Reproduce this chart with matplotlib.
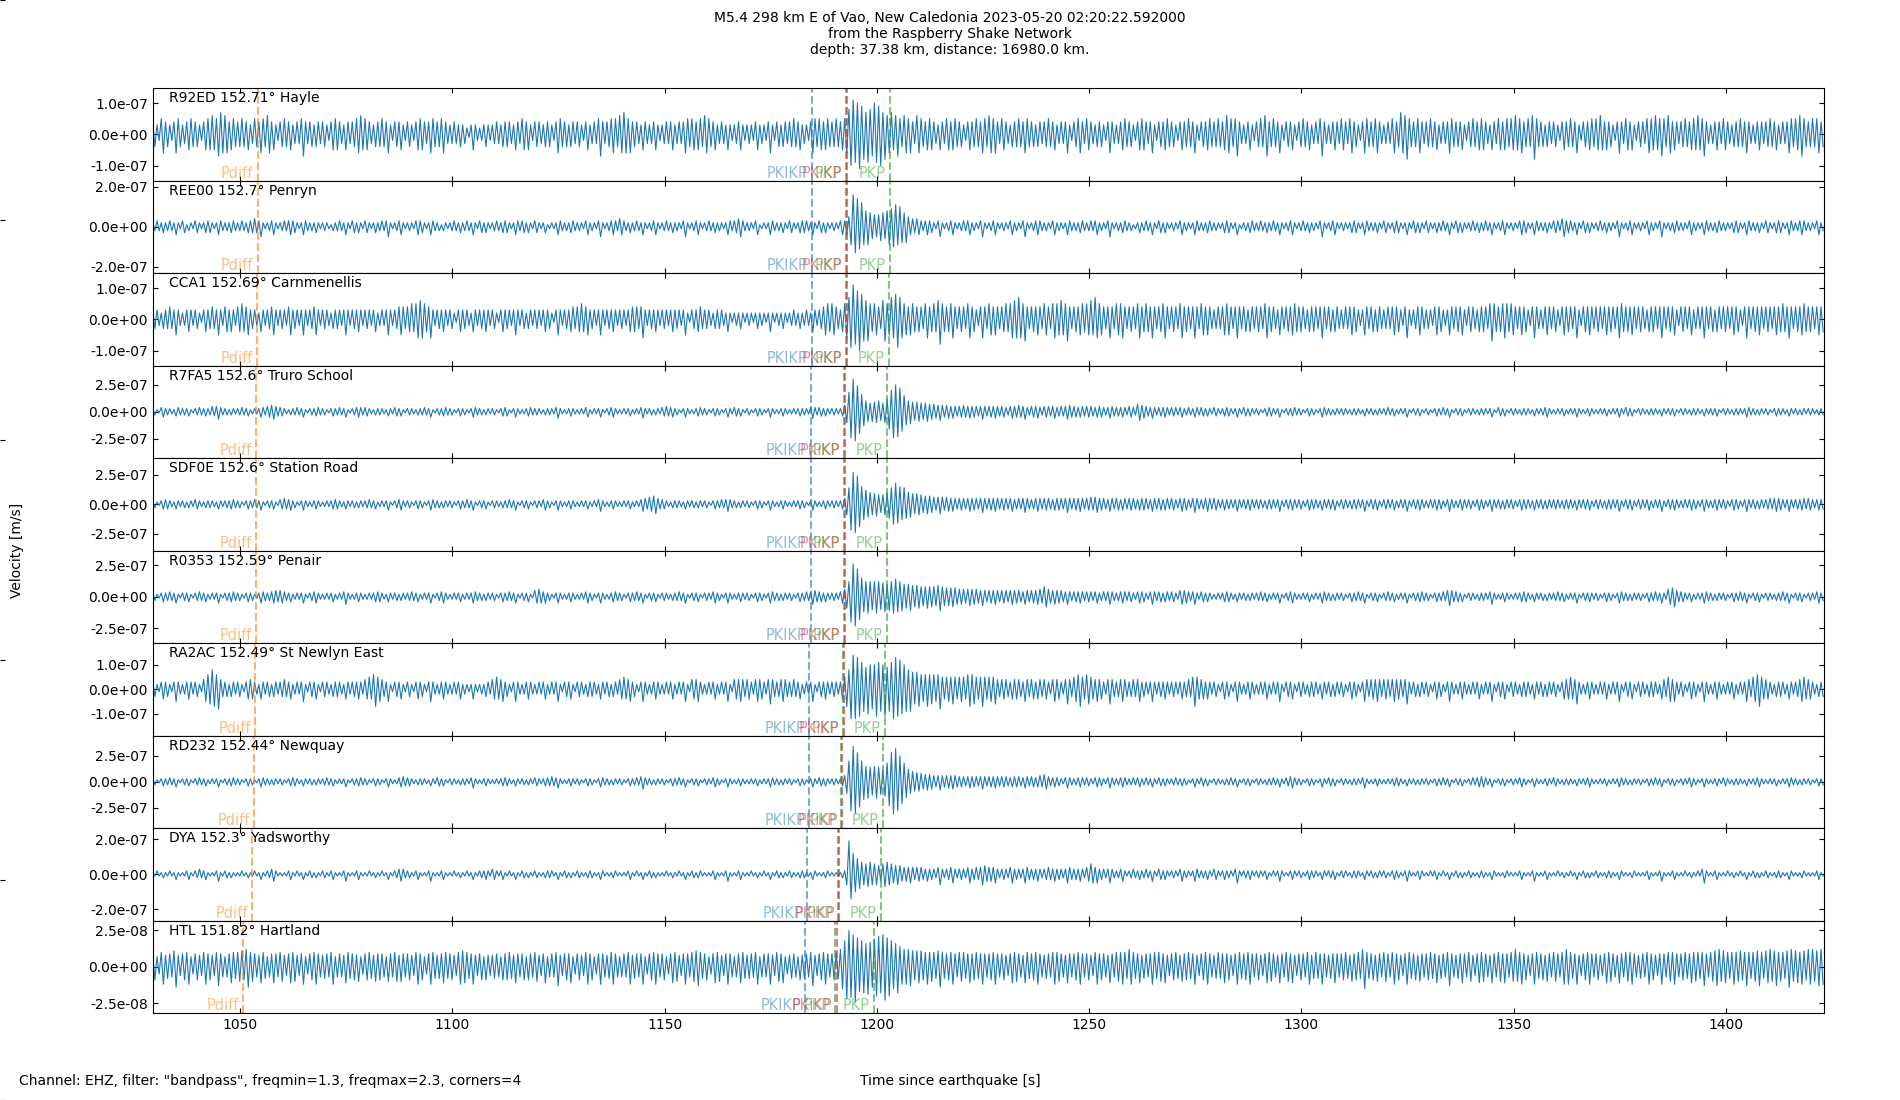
import numpy as np
import matplotlib
matplotlib.use("Agg")
import matplotlib.pyplot as plt
from matplotlib.ticker import FormatStrFormatter

# ------------------------------------------------------------------
# stations (top to bottom)
# ------------------------------------------------------------------
stations = ["R92ED", "REE00", "CCA1", "R7FA5", "SDF0E",
            "R0353", "RA2AC", "RD232", "DYA", "HTL"]
dists = ["152.71", "152.7", "152.69", "152.6", "152.6",
         "152.59", "152.49", "152.44", "152.3", "151.82"]
places = ["Hayle", "Penryn", "Carnmenellis", "Truro School", "Station Road",
          "Penair", "St Newlyn East", "Newquay", "Yadsworthy", "Hartland"]

ylims = [1.48e-7, 2.31e-7, 1.48e-7, 4.28e-7, 3.92e-7,
         3.65e-7, 1.89e-7, 4.45e-7, 2.64e-7, 3.18e-8]
ytick_step = [1e-7, 2e-7, 1e-7, 2.5e-7, 2.5e-7,
              2.5e-7, 1e-7, 2.5e-7, 2e-7, 2.5e-8]
units = [1e-8, 1e-8, 1e-8, 1e-8, 1e-8, 1e-8, 1e-8, 1e-8, 1e-8, 1e-9]

# phase arrival times [s]
pdiff_t = [1054.1, 1054.1, 1054.0, 1053.8, 1053.8, 1053.7, 1053.5, 1053.3, 1052.8, 1050.6]
pkikp_t = [1184.6, 1184.6, 1184.6, 1184.4, 1184.4, 1184.4, 1184.1, 1184.1, 1183.6, 1183.1]
pkikp2_t = [1192.9, 1192.9, 1192.9, 1192.4, 1192.4, 1192.4, 1192.2, 1191.8, 1191.1, 1190.5]
pkp1_t = [1192.7, 1192.7, 1192.7, 1192.2, 1192.2, 1192.2, 1191.9, 1191.5, 1190.8, 1190.1]
pkp2_t = [1203.0, 1203.0, 1202.9, 1202.3, 1202.3, 1202.3, 1201.8, 1201.5, 1201.0, 1199.3]

# trace peak amplitudes, two peaks per second (in "units" of each trace),
# peaks alternate up / down; one line = 20 s
t_start = 1029.4
dt = 0.5

amp_R92ED = [
    4,4,3,2,5,6,4,4,3,2,4,6,5,4,3,3,4,5,5,4,4,4,3,2,4,5,5,5,6,5,5,7,7,6,6,6,4,5,5,4,
    4,4,5,4,4,5,3,3,5,4,4,6,5,4,6,6,4,5,3,2,4,4,5,4,4,5,3,3,4,3,5,7,4,3,4,4,3,4,4,3,
    4,4,3,2,4,5,5,5,4,3,3,5,4,3,4,4,5,6,6,5,5,5,4,3,3,4,4,4,5,4,4,6,3,2,4,4,4,5,3,2,
    4,4,3,2,4,5,5,5,4,3,4,6,5,4,4,4,5,6,4,3,3,3,4,3,3,4,3,3,2,1,3,5,3,2,2,2,3,4,3,2,
    3,3,4,3,3,4,4,4,4,3,3,5,4,3,5,5,4,5,3,2,4,4,4,3,3,4,4,4,3,2,4,6,5,4,4,4,3,4,4,3,
    4,4,3,2,4,5,3,3,4,3,5,7,4,3,4,4,5,6,5,4,6,6,7,6,5,6,4,4,4,3,3,5,4,3,3,3,4,5,3,2,
    3,3,4,3,4,5,3,3,4,3,4,6,5,4,5,5,4,5,5,4,6,6,5,4,4,5,3,3,4,3,3,5,3,2,3,3,4,5,3,2,
    3,3,3,2,4,5,3,3,3,2,4,6,3,2,4,4,3,4,4,3,4,4,5,4,4,5,3,3,3,2,4,6,5,4,5,5,4,5,5,4,
    4,4,5,4,4,5,5,6,8,10,11,9,10,11,9,8,7,9,8,7,10,9,9,10,7,8,6,6,7,5,6,7,5,4,6,6,5,6,4,3,
    6,6,5,4,4,5,5,5,4,3,3,5,4,3,5,5,4,5,5,4,4,4,3,2,4,5,4,4,5,4,4,6,5,4,6,6,5,6,4,3,
    5,5,4,3,3,4,4,4,5,4,4,6,5,4,4,4,3,4,4,3,4,4,5,4,4,5,3,3,4,3,4,6,3,2,4,4,5,6,4,3,
    5,5,4,3,3,4,4,4,3,2,4,6,4,3,3,3,4,5,5,4,4,4,3,2,4,5,5,5,4,3,4,6,3,2,4,4,4,5,5,4,
    4,4,3,2,4,5,4,4,5,4,4,6,3,2,4,4,4,5,5,4,4,4,5,4,4,5,6,6,5,4,5,7,4,3,3,3,4,5,3,2,
    4,4,5,4,6,7,4,4,5,4,4,6,3,2,4,4,4,5,3,2,4,4,5,4,4,5,3,3,4,3,5,7,4,3,3,3,4,5,4,3,
    5,5,4,3,5,6,4,4,3,2,4,6,5,4,4,4,5,6,4,3,3,3,4,3,5,6,4,4,7,6,6,8,5,4,4,4,5,6,4,3,
    4,4,5,4,4,5,3,3,4,3,4,6,5,4,4,4,4,5,3,2,4,4,5,4,4,5,5,5,4,3,3,5,4,3,5,5,4,5,5,4,
    5,5,6,5,5,6,4,4,5,4,6,8,5,4,4,4,3,4,4,3,4,4,3,2,4,5,4,4,5,4,4,6,3,2,4,4,4,5,5,4,
    5,5,6,5,4,5,4,4,3,2,4,6,4,3,5,5,4,5,3,2,4,4,4,3,5,6,5,5,6,5,5,7,5,4,6,6,4,5,4,3,
    4,4,5,4,4,5,5,5,6,5,5,7,4,3,3,3,4,5,4,3,5,5,4,3,3,4,4,4,5,4,4,6,4,3,3,3,4,5,4,3,
    4,4,5,4,4,5,3,3,4,3,4,6,5,4,5,5,6,7,5,4,4,4,5,4,5,6,4,4,
]

amp_REE00 = [
    2,2,3,2,2,3,2,2,3,2,2,4,2,1,3,3,1,2,2,1,3,3,2,1,2,3,3,3,2,1,2,4,3,2,2,2,2,3,3,2,
    2,2,3,2,2,3,3,3,4,3,3,5,2,1,2,2,3,4,2,1,2,2,3,2,3,4,3,3,2,1,2,4,3,2,2,2,2,3,2,1,
    2,2,2,1,1,2,2,2,3,2,2,4,2,1,3,3,2,3,2,1,3,3,2,1,2,3,2,2,3,2,3,5,2,1,2,2,3,4,2,1,
    2,2,2,1,3,4,3,3,2,1,2,4,3,2,2,2,1,2,2,1,2,2,3,2,2,3,2,2,3,2,2,4,2,1,3,3,2,3,2,1,
    2,2,3,2,2,3,3,3,2,1,2,4,3,2,3,3,2,3,2,1,3,3,2,1,2,3,1,1,2,1,2,4,3,2,2,2,2,3,3,2,
    2,2,2,1,3,4,2,2,2,1,3,5,2,1,2,2,3,4,3,2,4,4,3,2,2,3,2,2,3,2,2,4,2,1,2,2,3,4,2,1,
    2,2,3,2,2,3,2,2,2,1,3,5,2,1,2,2,3,4,2,1,2,2,3,2,2,3,2,2,2,1,2,4,3,2,3,3,4,5,3,2,
    2,2,2,1,3,4,1,1,2,1,2,4,3,2,2,2,2,3,2,1,3,3,2,1,2,3,3,3,3,2,2,4,2,1,3,3,2,3,2,1,
    2,2,2,1,3,4,3,4,5,9,16,13,14,11,12,9,8,9,7,6,6,5,6,7,7,6,8,9,9,10,11,9,10,8,7,8,5,4,4,3,
    4,4,3,2,3,4,3,3,2,1,3,5,2,1,2,2,3,4,2,1,2,2,3,2,3,4,2,2,2,1,3,5,2,1,2,2,3,4,2,1,
    2,2,2,1,3,4,2,2,2,1,3,5,2,1,2,2,3,4,3,2,2,2,2,1,3,4,2,2,2,1,2,4,3,2,2,2,2,3,3,2,
    2,2,3,2,3,4,2,2,2,1,3,5,2,1,2,2,2,3,3,2,2,2,1,1,2,3,2,2,3,2,2,4,2,1,3,3,2,3,2,1,
    2,2,2,1,3,4,2,2,2,1,2,4,3,2,2,2,2,3,3,2,2,2,2,1,2,3,3,3,2,1,2,4,1,1,2,2,2,3,3,2,
    2,2,3,2,2,3,2,2,3,2,2,4,2,1,2,2,3,4,2,1,2,2,3,2,2,3,2,2,2,1,3,5,2,1,2,2,3,4,2,1,
    2,2,2,1,2,3,3,3,2,1,2,4,3,2,2,2,2,3,2,1,3,3,2,1,2,3,3,3,2,1,2,4,2,1,3,3,2,3,2,1,
    3,3,2,1,2,3,2,2,3,2,2,4,2,1,3,3,2,3,2,1,2,2,3,2,2,3,2,2,3,2,2,4,2,1,2,2,3,4,2,1,
    2,2,2,1,3,4,3,3,2,1,2,4,3,2,2,2,2,3,2,1,3,3,3,2,4,5,3,3,3,2,2,4,2,1,3,3,2,3,2,1,
    2,2,3,2,2,3,2,2,2,1,3,5,2,1,2,2,3,4,2,1,2,2,2,1,3,4,2,2,2,1,3,5,2,1,2,2,2,3,3,2,
    2,2,2,1,3,4,2,2,2,1,2,4,3,2,2,2,2,3,3,2,2,2,2,1,2,3,3,3,2,1,2,4,3,2,2,2,2,3,2,1,
    3,3,2,1,2,3,3,3,2,1,2,4,3,2,2,2,3,4,3,2,2,2,2,1,3,4,2,2,
]

amp_CCA1 = [
    3,3,3,2,2,3,3,3,4,3,3,5,3,2,2,2,3,4,3,2,3,3,2,1,3,4,3,3,4,3,3,5,3,2,4,4,3,4,3,2,
    4,4,5,4,4,5,3,3,3,2,2,4,3,2,3,3,4,5,3,2,3,3,3,2,4,5,3,3,3,2,3,5,3,2,3,3,4,5,3,2,
    3,3,3,2,2,3,3,3,3,2,3,5,3,2,3,3,3,4,3,2,3,3,3,2,3,4,2,2,3,2,3,5,3,2,3,3,4,5,4,3,
    4,4,5,4,5,6,6,6,5,4,4,6,3,2,3,3,3,4,3,2,3,3,2,1,3,4,3,3,3,2,2,4,3,2,3,3,3,4,3,2,
    3,3,2,1,3,4,3,3,3,2,3,5,3,2,3,3,2,3,3,2,3,3,3,2,3,4,3,3,2,1,3,5,3,2,3,3,3,4,4,3,
    4,4,5,4,4,5,3,3,3,2,3,5,3,2,3,3,3,4,3,2,3,3,3,2,3,4,4,4,4,3,4,6,3,2,3,3,3,4,3,2,
    3,3,3,2,3,4,3,3,3,2,3,5,2,1,3,3,3,4,4,3,3,3,3,2,2,3,3,3,3,2,2,4,2,1,2,2,2,3,2,1,
    2,2,2,1,2,3,2,2,2,1,2,4,2,1,2,2,2,3,2,1,2,2,3,2,2,3,2,2,3,2,2,4,3,2,3,3,4,5,5,4,
    5,5,4,3,3,4,5,6,7,9,11,8,9,10,8,7,6,7,5,4,5,5,4,3,6,7,5,5,7,6,8,9,7,6,5,5,4,5,5,4,
    4,4,4,3,5,6,4,4,5,4,6,8,5,4,4,4,5,6,4,3,4,4,4,3,5,6,4,4,3,2,4,6,4,3,5,5,4,5,4,3,
    4,4,5,4,5,6,6,6,7,6,5,7,4,3,4,4,4,5,4,3,5,5,4,3,5,6,5,5,6,5,5,7,4,3,4,4,4,5,5,4,
    5,5,6,5,7,6,5,5,4,3,4,6,4,3,5,5,5,6,4,3,4,4,4,3,5,6,4,4,5,4,4,6,4,3,4,4,5,6,4,3,
    4,4,4,3,5,6,4,4,4,3,4,6,4,3,5,5,4,5,4,3,3,3,4,3,4,5,5,5,4,3,4,6,4,3,4,4,3,4,4,3,
    4,4,4,3,5,6,4,4,4,3,3,5,4,3,4,4,4,5,5,4,4,4,4,3,3,4,4,4,4,3,4,6,4,3,4,4,3,4,4,3,
    3,3,4,3,4,5,4,4,3,2,3,5,4,3,4,4,3,4,4,3,3,3,4,3,4,5,4,4,3,2,4,6,3,2,3,3,4,5,4,3,
    3,3,3,2,4,5,4,4,3,2,3,5,4,3,4,4,4,5,3,2,4,4,4,3,3,4,4,4,4,3,5,7,5,4,4,4,5,6,5,4,
    5,5,4,3,4,5,4,4,3,2,4,6,4,3,3,3,4,5,4,3,4,4,3,2,4,5,4,4,4,3,4,6,3,2,4,4,4,5,4,3,
    4,4,4,3,4,5,4,4,4,3,4,6,5,4,4,4,4,5,4,3,4,4,4,3,3,4,4,4,4,3,4,6,4,3,4,4,4,5,3,2,
    4,4,4,3,4,5,3,3,4,3,4,6,4,3,4,4,3,4,4,3,4,4,4,3,4,5,4,4,3,2,4,6,4,3,4,4,4,5,4,3,
    4,4,4,3,4,5,4,4,5,4,4,6,4,3,4,4,4,5,5,4,4,4,4,3,4,5,4,4,
]

amp_R7FA5 = [
    3,3,2,1,4,5,3,3,3,2,2,4,4,3,3,3,3,4,2,1,3,3,4,3,3,4,3,3,5,4,5,7,4,3,3,3,2,3,3,2,
    3,3,4,3,3,4,2,2,3,2,3,5,4,3,5,5,6,7,5,4,4,4,3,2,2,3,3,3,4,3,3,5,2,1,3,3,3,4,4,3,
    3,3,2,1,3,4,3,3,4,3,3,5,2,1,3,3,4,5,4,3,4,4,3,2,2,3,3,3,3,2,2,4,3,2,4,4,3,4,2,1,
    3,3,3,2,2,3,3,3,4,3,3,5,2,1,3,3,3,4,4,3,3,3,2,1,3,4,3,3,2,1,3,5,4,3,3,3,2,3,3,2,
    3,3,2,1,3,4,4,4,2,1,3,5,3,2,2,2,3,4,4,3,3,3,3,2,2,3,3,3,3,2,4,6,3,2,2,2,3,4,3,2,
    2,2,3,2,4,5,2,2,3,2,3,5,2,1,3,3,4,5,3,2,2,2,3,2,3,4,2,2,3,2,4,6,3,2,3,3,2,3,3,2,
    4,4,5,4,4,5,3,3,2,1,3,5,3,2,2,2,3,4,4,3,3,3,2,1,3,4,3,3,2,1,3,5,3,2,4,4,3,4,2,1,
    3,3,2,1,3,4,3,3,2,1,3,5,3,2,2,2,3,4,3,2,2,2,3,2,3,4,3,3,3,2,4,6,4,3,4,4,3,4,3,2,
    3,3,3,2,3,4,6,10,18,24,30,27,24,20,16,13,10,9,8,9,9,10,10,8,8,10,12,16,20,24,25,23,22,18,15,12,10,11,9,8,
    9,9,8,7,8,9,7,7,7,6,6,8,6,5,6,6,5,6,5,4,5,5,6,5,5,6,5,5,5,4,5,7,5,4,5,5,5,6,5,4,
    5,5,4,3,5,6,5,5,6,5,5,7,4,3,5,5,5,6,4,3,5,5,5,4,5,6,4,4,5,4,5,7,6,5,5,5,4,5,5,4,
    5,5,5,4,4,5,5,5,4,3,4,6,5,4,4,4,4,5,4,3,5,5,4,3,7,8,6,6,5,4,4,6,4,3,4,4,4,5,4,3,
    4,4,4,3,4,5,3,3,4,3,3,5,4,3,4,4,3,4,3,2,4,4,3,2,3,4,4,4,3,2,3,5,3,2,4,4,3,4,3,2,
    3,3,2,1,3,4,4,4,3,2,3,5,2,1,3,3,3,4,4,3,3,3,2,1,3,4,3,3,2,1,3,5,4,3,3,3,2,3,3,2,
    3,3,3,2,2,3,3,3,3,2,2,4,3,2,3,3,2,3,3,2,3,3,4,3,3,4,2,2,3,2,3,5,2,1,3,3,3,4,2,1,
    3,3,2,1,3,4,3,3,4,3,3,5,2,1,3,3,3,4,2,1,3,3,3,2,2,3,3,3,3,2,3,5,2,1,4,4,3,4,2,1,
    3,3,3,2,2,3,3,3,3,2,2,4,3,2,3,3,4,5,3,2,2,2,3,2,3,4,2,2,3,2,3,5,3,2,2,2,3,4,3,2,
    2,2,3,2,3,4,2,2,3,2,3,5,3,2,4,4,3,4,2,1,3,3,3,2,2,3,3,3,3,2,2,4,3,2,3,3,3,4,2,1,
    3,3,3,2,2,3,3,3,3,2,2,4,3,2,3,3,3,4,2,1,3,3,3,2,2,3,3,3,3,2,3,5,4,3,3,3,2,3,3,2,
    3,3,2,1,3,4,3,3,3,2,2,4,3,2,3,3,2,3,3,2,3,3,3,2,2,3,3,3,
]

amp_SDF0E = [
    3,3,2,1,3,4,4,4,3,2,2,4,3,2,3,3,2,3,3,2,4,4,3,2,2,3,3,3,3,2,2,4,3,2,3,3,3,4,4,3,
    3,3,2,1,3,4,3,3,4,3,3,5,2,1,3,3,3,4,2,1,4,4,5,4,4,5,3,3,2,1,3,5,3,2,2,2,3,4,3,2,
    2,2,3,2,3,4,4,4,3,2,2,4,3,2,3,3,2,3,3,2,3,3,4,3,3,4,2,2,3,2,3,5,2,1,3,3,4,5,3,2,
    3,3,2,1,3,4,3,3,2,1,3,5,4,3,3,3,2,3,3,2,3,3,2,1,3,4,3,3,4,3,3,5,2,1,3,3,3,4,2,1,
    3,3,3,2,2,3,3,3,4,3,3,5,2,1,3,3,3,4,2,1,3,3,3,2,4,5,3,3,2,1,3,5,3,2,2,2,3,4,3,2,
    2,2,3,2,3,4,2,2,3,2,4,6,3,2,2,2,3,4,3,2,2,2,3,2,3,4,2,2,3,2,4,6,5,4,6,6,7,8,5,4,
    4,4,3,2,2,3,3,3,3,2,2,4,3,2,3,3,2,3,3,2,3,3,2,1,3,4,3,3,4,3,4,6,4,3,3,3,2,3,3,2,
    3,3,2,1,3,4,3,3,2,1,3,5,3,2,2,2,3,4,3,2,2,2,3,2,3,4,3,3,2,1,3,5,3,2,2,2,3,4,3,2,
    3,3,3,2,3,4,5,9,14,22,27,24,24,19,15,13,12,11,10,9,9,10,8,7,8,9,10,12,14,17,18,16,15,13,14,12,10,11,9,8,
    9,9,8,7,7,8,7,7,6,5,6,8,6,5,6,6,5,6,5,4,5,5,5,4,5,6,5,5,5,4,5,7,5,4,5,5,5,6,5,4,
    5,5,5,4,5,6,4,4,5,4,5,7,5,4,4,4,5,6,5,4,5,5,5,4,4,5,5,5,5,4,5,7,5,4,5,5,5,6,5,4,
    5,5,6,5,6,7,5,5,5,4,4,6,5,4,5,5,4,5,5,4,5,5,5,4,4,5,5,5,5,4,4,6,5,4,5,5,4,5,5,4,
    5,5,4,3,5,6,5,5,4,3,5,7,5,4,4,4,5,6,5,4,5,5,4,3,4,5,4,4,4,3,4,6,4,3,4,4,4,5,4,3,
    4,4,4,3,3,4,4,4,4,3,4,6,3,2,4,4,4,5,4,3,4,4,3,2,4,5,4,4,4,3,3,5,4,3,4,4,4,5,3,2,
    4,4,4,3,3,4,4,4,4,3,4,6,3,2,4,4,4,5,3,2,4,4,4,3,4,5,3,3,4,3,4,6,3,2,4,4,4,5,4,3,
    3,3,4,3,4,5,4,4,3,2,4,6,4,3,3,3,4,5,4,3,4,4,3,2,4,5,4,4,3,2,4,6,4,3,4,4,3,4,4,3,
    4,4,3,2,4,5,4,4,4,3,3,5,4,3,4,4,3,4,4,3,4,4,4,3,3,4,4,4,4,3,3,5,4,3,4,4,4,5,3,2,
    4,4,4,3,3,4,4,4,4,3,4,6,3,2,4,4,4,5,3,2,4,4,4,3,4,5,3,3,4,3,4,6,3,2,4,4,4,5,4,3,
    3,3,4,3,4,5,4,4,3,2,4,6,4,3,3,3,4,5,4,3,4,4,3,2,4,5,4,4,3,2,4,6,4,3,4,4,3,4,4,3,
    4,4,5,4,5,6,5,5,4,3,4,6,4,3,4,4,4,5,5,4,5,5,4,3,4,5,4,4,
]

amp_R0353 = [
    3,3,2,1,3,4,3,3,4,3,3,5,2,1,3,3,3,4,2,1,3,3,4,3,3,4,2,2,3,2,3,5,2,1,3,3,3,4,4,3,
    3,3,2,1,3,4,3,3,2,1,3,5,4,3,3,3,4,5,5,4,5,5,4,3,3,4,2,2,3,2,3,5,2,1,3,3,4,5,3,2,
    2,2,3,2,3,4,2,2,3,2,4,6,3,2,2,2,3,4,3,2,2,2,3,2,3,4,4,4,3,2,2,4,3,2,3,3,2,3,3,2,
    3,3,4,3,3,4,2,2,3,2,3,5,2,1,3,3,4,5,3,2,2,2,3,2,3,4,2,2,3,2,3,5,4,3,3,3,2,3,3,2,
    3,3,2,1,3,4,3,3,4,3,3,5,2,1,3,3,3,4,2,1,5,5,6,5,4,5,3,3,2,1,3,5,3,2,2,2,3,4,3,2,
    2,2,3,2,4,5,3,3,2,1,3,5,3,2,2,2,3,4,4,3,3,3,2,1,3,4,3,3,4,3,3,5,2,1,3,3,3,4,2,1,
    3,3,3,2,2,3,3,3,4,3,3,5,2,1,3,3,3,4,2,1,3,3,3,2,4,5,3,3,2,1,3,5,3,2,2,2,3,4,3,2,
    3,3,2,1,3,4,3,3,2,1,3,5,4,3,3,3,2,3,3,2,3,3,2,1,3,4,3,3,4,3,4,6,5,4,4,4,3,4,3,2,
    3,3,3,2,4,5,6,9,12,20,26,23,22,18,15,12,12,13,12,10,12,13,12,10,11,12,10,11,12,13,14,12,12,11,10,9,10,11,9,8,
    9,9,8,7,8,9,8,8,8,7,9,11,8,7,7,7,7,8,7,6,6,6,6,5,6,7,6,6,6,5,5,7,5,4,5,5,5,6,5,4,
    5,5,5,4,5,6,5,5,5,4,4,6,5,4,5,5,5,6,6,5,8,8,6,5,5,6,5,5,5,4,4,6,4,3,4,4,4,5,4,3,
    4,4,4,3,4,5,3,3,4,3,4,6,4,3,3,3,4,5,4,3,4,4,3,2,4,5,4,4,3,2,4,6,4,3,4,4,3,4,4,3,
    4,4,3,2,5,6,5,5,4,3,4,6,3,2,4,4,3,4,3,2,2,2,3,2,3,4,4,4,3,2,2,4,3,2,3,3,2,3,3,2,
    3,3,4,3,3,4,2,2,3,2,3,5,2,1,3,3,4,5,3,2,2,2,3,2,3,4,2,2,3,2,3,5,4,3,3,3,2,3,3,2,
    3,3,2,1,3,4,3,3,4,3,3,5,2,1,3,3,3,4,2,1,3,3,4,3,3,4,2,2,3,2,3,5,2,1,3,3,3,4,4,3,
    3,3,2,1,3,4,3,3,4,3,5,7,5,4,4,4,3,4,2,1,3,3,3,2,2,3,3,3,3,2,4,6,3,2,2,2,3,4,3,2,
    2,2,3,2,3,4,4,4,3,2,2,4,3,2,3,3,2,3,3,2,3,3,4,3,3,4,2,2,3,2,3,5,2,1,3,3,3,4,3,2,
    3,3,2,1,3,4,3,3,2,1,3,5,4,3,3,3,2,3,3,2,3,3,2,1,3,4,3,3,4,3,3,5,3,2,6,6,7,8,5,4,
    4,4,3,2,3,4,2,2,3,2,3,5,4,3,3,3,2,3,3,2,3,3,2,1,3,4,3,3,4,3,3,5,2,1,3,3,3,4,2,1,
    3,3,3,2,2,3,3,3,4,3,3,5,2,1,3,3,3,4,2,1,3,3,3,2,4,5,3,3,
]

amp_RA2AC = [
    3,3,2,1,3,4,3,3,2,1,3,5,3,2,2,2,3,4,3,2,3,3,2,1,4,5,6,6,8,7,6,8,4,3,3,3,2,3,3,2,
    3,3,2,1,3,4,4,4,3,2,2,4,3,2,3,3,2,3,3,2,3,3,4,3,3,4,2,2,3,2,3,5,2,1,3,3,3,4,2,1,
    3,3,3,2,2,3,3,3,3,2,2,4,3,2,3,3,3,4,3,2,4,4,5,4,6,7,5,5,4,3,3,5,2,1,3,3,3,4,2,1,
    3,3,2,1,3,4,3,3,2,1,3,5,3,2,2,2,3,4,3,2,2,2,3,2,3,4,2,2,2,1,2,4,2,1,2,2,2,3,3,2,
    4,4,5,4,4,5,3,3,2,1,3,5,3,2,2,2,3,4,3,2,2,2,3,2,3,4,2,2,3,2,3,5,2,1,3,3,3,4,2,1,
    3,3,3,2,2,3,3,3,3,2,2,4,3,2,3,3,2,3,3,2,4,4,5,4,4,5,3,3,2,1,3,5,3,2,2,2,3,4,3,2,
    2,2,3,2,3,4,2,2,3,2,3,5,2,1,4,4,4,5,3,2,2,2,3,2,3,4,2,2,3,2,3,5,2,1,4,4,4,5,4,3,
    4,4,3,2,4,5,4,4,3,2,4,6,4,3,3,3,4,5,4,3,3,3,4,3,3,4,2,2,3,2,3,5,2,1,3,3,3,4,3,2,
    3,3,3,2,3,4,5,7,8,12,14,12,13,11,11,9,9,10,10,8,10,11,11,9,10,11,9,9,11,12,13,11,12,10,10,9,8,9,7,6,
    7,7,6,5,6,7,6,6,6,5,6,8,5,4,5,5,5,6,5,4,5,5,5,4,6,7,6,6,5,4,5,7,5,4,5,5,5,6,4,3,
    4,4,4,3,3,4,4,4,4,3,3,5,4,3,4,4,3,4,4,3,4,4,3,2,4,5,4,4,3,2,4,6,4,3,5,5,6,7,5,4,
    6,6,5,4,4,5,4,4,3,2,4,6,4,3,3,3,4,5,4,3,3,3,4,3,4,5,3,3,3,2,3,5,3,2,3,3,3,4,3,2,
    3,3,3,2,3,4,3,3,4,3,5,7,5,4,4,4,3,4,3,2,3,3,2,1,3,4,3,3,2,1,3,5,3,2,2,2,3,4,3,2,
    2,2,3,2,3,4,2,2,3,2,3,5,2,1,3,3,3,4,2,1,3,3,3,2,2,3,3,3,3,2,2,4,3,2,3,3,2,3,3,2,
    3,3,2,1,3,4,3,3,2,1,3,5,4,3,4,4,4,5,4,3,4,4,4,3,4,5,4,4,4,3,4,6,3,2,3,3,2,3,3,2,
    3,3,2,1,3,4,3,3,2,1,3,5,3,2,2,2,3,4,3,2,2,2,3,2,3,4,2,2,3,2,3,5,2,1,3,3,3,4,2,1,
    3,3,3,2,2,3,3,3,3,2,2,4,3,2,3,3,2,3,3,2,3,3,2,1,3,4,4,4,5,4,4,6,3,2,2,2,3,4,3,2,
    2,2,3,2,3,4,2,2,3,2,3,5,2,1,3,3,3,4,2,1,3,3,3,2,2,3,3,3,3,2,2,4,4,3,5,5,4,5,3,2,
    3,3,2,1,3,4,3,3,2,1,3,5,3,2,2,2,3,4,3,2,2,2,3,2,3,4,2,2,3,2,3,5,4,3,5,5,6,7,5,4,
    4,4,3,2,2,3,3,3,3,2,2,4,3,2,3,3,4,5,5,4,4,4,3,2,2,3,3,3,
]

amp_RD232 = [
    3,3,2,1,3,4,3,3,4,3,3,5,2,1,3,3,3,4,2,1,3,3,4,3,3,4,2,2,3,2,3,5,2,1,3,3,3,4,4,3,
    3,3,2,1,3,4,3,3,2,1,3,5,4,3,3,3,2,3,3,2,3,3,2,1,3,4,4,4,3,2,2,4,3,2,3,3,2,3,3,2,
    3,3,4,3,3,4,2,2,3,2,3,5,2,1,3,3,3,4,4,3,3,3,2,1,3,4,3,3,2,1,3,5,3,2,2,2,4,5,5,4,
    4,4,3,2,2,3,3,3,3,2,2,4,3,2,4,4,3,4,2,1,3,3,3,2,2,3,3,3,3,2,4,6,3,2,2,2,3,4,3,2,
    2,2,3,2,3,4,4,4,3,2,2,4,3,2,3,3,2,3,3,2,4,4,3,2,3,4,4,4,5,4,4,6,3,2,2,2,3,4,3,2,
    3,3,2,1,3,4,3,3,2,1,3,5,4,3,3,3,2,3,3,2,3,3,2,1,3,4,3,3,4,3,5,7,4,3,3,3,2,3,3,2,
    3,3,2,1,3,4,3,3,4,3,3,5,2,1,3,3,3,4,2,1,3,3,3,2,4,5,3,3,2,1,3,5,3,2,2,2,3,4,3,2,
    2,2,3,2,3,4,2,2,3,2,3,5,4,3,3,3,2,3,3,2,3,3,2,1,3,4,3,3,2,1,3,5,3,2,4,4,3,4,3,2,
    3,3,3,2,3,4,6,11,20,28,34,30,28,24,20,17,15,16,14,13,15,16,14,12,12,14,18,23,28,31,32,28,25,21,18,15,12,11,10,9,
    9,9,8,7,7,8,7,7,6,5,6,8,6,5,6,6,6,7,6,5,5,5,5,4,5,6,5,5,5,4,5,7,5,4,5,5,5,6,5,4,
    5,5,5,4,4,5,5,5,5,4,4,6,5,4,5,5,4,5,6,5,7,7,5,4,4,5,4,4,3,2,4,6,4,3,3,3,4,5,4,3,
    4,4,3,2,4,5,4,4,3,2,4,6,4,3,3,3,4,5,4,3,3,3,4,3,4,5,3,3,4,3,3,5,3,2,4,4,3,4,3,2,
    3,3,4,3,3,4,3,3,2,1,3,5,3,2,4,4,3,4,2,1,3,3,3,2,2,3,3,3,4,3,3,5,2,1,3,3,3,4,2,1,
    3,3,3,2,2,3,3,3,4,3,3,5,3,2,4,4,5,6,4,3,3,3,2,1,3,4,3,3,2,1,3,5,3,2,4,4,3,4,2,1,
    3,3,3,2,2,3,3,3,3,2,4,6,3,2,2,2,3,4,3,2,2,2,3,2,3,4,4,4,3,2,2,4,3,2,3,3,2,3,3,2,
    3,3,2,1,3,4,3,3,4,3,3,5,2,1,3,3,3,4,2,1,3,3,4,3,4,5,5,5,4,3,3,5,2,1,3,3,3,4,2,1,
    3,3,3,2,4,5,3,3,2,1,3,5,3,2,2,2,3,4,3,2,4,4,3,2,2,3,3,3,3,2,2,4,3,2,3,3,4,5,3,2,
    2,2,3,2,3,4,2,2,3,2,3,5,4,3,3,3,2,3,3,2,3,3,2,1,3,4,3,3,4,3,3,5,2,1,3,3,3,4,2,1,
    3,3,3,2,4,5,3,3,2,1,3,5,3,2,2,2,3,4,3,2,4,4,3,2,2,3,3,3,3,2,2,4,3,2,3,3,4,5,3,2,
    2,2,3,2,3,4,2,2,3,2,3,5,4,3,3,3,2,3,3,2,3,3,2,1,3,4,3,3,
]

amp_DYA = [
    1,1,2,1,1,2,1,1,2,1,1,3,1,1,1,1,2,3,1,1,2,2,3,2,2,3,1,1,1,1,2,4,1,1,2,2,1,2,1,1,
    1,1,2,1,1,2,1,1,2,1,1,3,1,1,2,2,3,4,2,1,1,1,1,1,2,3,1,1,2,1,1,3,1,1,2,2,1,2,1,1,
    2,2,1,1,2,3,1,1,1,1,2,4,1,1,1,1,2,3,1,1,1,1,2,1,1,2,1,1,2,1,1,3,1,1,2,2,3,4,3,2,
    2,2,1,1,2,3,1,1,1,1,2,4,1,1,1,1,2,3,1,1,1,1,2,1,1,2,1,1,2,1,1,3,1,1,2,2,2,3,2,1,
    3,3,2,1,2,3,1,1,2,1,1,3,1,1,2,2,1,2,1,1,2,2,1,1,1,2,2,2,2,1,1,3,1,1,2,2,1,2,1,1,
    2,2,1,1,1,2,2,2,1,1,1,3,2,1,1,1,1,2,2,1,1,1,1,1,2,3,1,1,2,1,1,3,1,1,2,2,1,2,1,1,
    1,1,2,1,1,2,1,1,2,1,1,3,1,1,2,2,1,2,2,1,1,1,1,1,2,3,1,1,1,1,2,4,1,1,1,1,2,3,1,1,
    1,1,2,1,1,2,1,1,2,1,1,3,1,1,2,2,1,2,1,1,2,2,1,1,1,2,2,2,1,1,1,3,2,1,1,1,1,2,2,1,
    1,1,1,1,1,2,2,6,19,14,12,10,9,8,7,6,6,7,7,6,6,6,5,4,6,7,7,6,6,5,5,6,5,4,4,4,4,5,4,3,
    4,4,4,3,3,4,3,3,3,2,4,6,3,2,3,3,4,5,3,2,3,3,3,2,4,5,3,3,4,3,4,6,5,4,4,4,4,5,3,2,
    3,3,3,2,4,5,3,3,3,2,3,5,4,3,3,3,3,4,3,2,3,3,4,3,3,4,3,3,3,2,3,5,4,3,3,3,3,4,3,2,
    4,4,6,5,4,5,3,3,3,2,3,5,3,2,2,2,3,4,2,1,2,2,3,2,2,3,2,2,3,2,2,4,2,1,3,3,2,3,2,1,
    2,2,2,1,3,4,2,2,2,1,2,4,3,2,2,2,2,3,2,1,3,3,2,1,2,3,2,2,2,1,3,5,2,1,2,2,2,3,2,1,
    2,2,2,1,2,3,1,1,2,1,2,4,2,1,1,1,2,3,2,1,2,2,1,1,2,3,2,2,2,1,1,3,2,1,2,2,2,3,1,1,
    2,2,2,1,1,2,2,2,2,1,1,3,2,1,2,2,1,2,2,1,2,2,1,1,2,3,2,2,1,1,2,4,2,1,1,1,2,3,2,1,
    1,1,2,1,2,3,1,1,2,1,1,3,1,1,2,2,1,2,1,1,2,2,1,1,1,2,2,2,1,1,1,3,2,1,1,1,1,2,2,1,
    1,1,1,1,2,3,1,1,1,1,2,4,1,1,1,1,2,3,1,1,1,1,2,1,1,2,1,1,2,1,1,3,1,1,2,2,1,2,1,1,
    2,2,1,1,1,2,2,2,1,1,1,3,2,1,1,1,1,2,2,1,1,1,1,1,2,3,1,1,1,1,2,4,1,1,1,1,2,3,1,1,
    1,1,2,1,1,2,1,1,2,1,3,5,2,1,1,1,2,3,1,1,1,1,2,1,1,2,1,1,2,1,1,3,1,1,2,2,1,2,1,1,
    2,2,1,1,1,2,2,2,1,1,1,3,2,1,1,1,1,2,2,1,1,1,1,1,2,3,1,1,
]

amp_HTL = [
    9,9,7,5,10,12,8,8,9,7,11,14,8,6,9,9,10,12,7,5,9,9,8,6,10,12,9,9,8,6,10,13,9,7,7,7,9,11,10,8,
    10,10,11,9,12,14,10,10,9,7,8,11,10,8,7,7,9,11,9,7,10,10,8,6,9,11,10,10,8,6,9,12,7,5,9,9,10,12,9,7,
    8,8,9,7,10,12,7,7,9,7,8,11,10,8,9,9,8,10,7,5,9,9,10,8,8,10,9,9,9,7,7,10,9,7,10,10,8,10,9,7,
    9,9,8,6,10,12,9,9,7,5,9,12,10,8,8,8,9,11,10,8,9,9,8,6,10,12,11,11,10,8,9,12,8,6,9,9,7,9,8,6,
    8,8,9,7,7,9,9,9,10,8,8,11,9,7,9,9,7,9,9,7,10,10,8,6,9,11,7,7,9,7,10,13,8,6,9,9,9,11,7,5,
    9,9,8,6,10,12,9,9,7,5,9,12,9,7,8,8,10,12,9,7,7,7,9,7,10,12,8,8,9,7,9,12,7,5,9,9,10,12,9,7,
    9,9,7,5,9,11,10,10,8,6,9,12,9,7,10,10,11,13,10,8,9,9,7,5,9,11,10,10,8,6,9,12,9,7,7,7,9,11,10,8,
    8,8,9,7,10,12,7,7,9,7,9,12,8,6,10,10,9,11,7,5,8,8,9,7,7,9,8,8,9,7,10,13,8,6,9,9,10,12,9,7,
    9,9,10,8,12,15,18,22,25,21,22,24,20,17,18,18,16,19,17,14,19,20,21,18,22,23,20,20,18,15,16,18,14,12,12,12,12,13,11,9,
    11,11,11,9,10,12,10,10,10,8,11,14,10,8,9,9,10,12,9,7,10,10,10,8,9,11,9,9,10,8,9,12,9,7,9,9,10,12,9,7,
    9,9,8,6,9,11,10,10,9,7,8,11,10,8,9,9,10,12,9,7,8,8,9,7,10,12,10,10,9,7,8,11,9,7,9,9,10,12,9,7,
    9,9,8,6,10,12,9,9,9,7,8,11,9,7,10,10,10,12,10,8,12,12,10,8,9,11,8,8,9,7,9,12,10,8,10,10,9,11,8,6,
    9,9,10,8,8,10,9,9,10,8,9,12,8,6,9,9,10,12,9,7,8,8,10,8,9,11,9,9,8,6,9,12,10,8,9,9,10,12,9,7,
    9,9,8,6,9,11,10,10,9,7,8,11,9,7,10,10,9,11,8,6,9,9,9,7,10,12,8,8,10,8,9,12,9,7,8,8,9,11,9,7,
    9,9,10,8,8,10,9,9,10,8,12,15,10,8,9,9,8,10,9,7,10,10,9,7,10,12,9,9,8,6,9,12,10,8,9,9,8,10,9,7,
    9,9,10,8,9,11,8,8,9,7,10,13,9,7,8,8,9,11,9,7,10,10,8,6,9,11,10,10,9,7,8,11,9,7,10,10,9,11,9,7,
    10,10,12,10,10,12,9,9,8,6,9,12,10,8,9,9,8,10,9,7,10,10,9,7,10,12,12,12,10,8,9,12,8,6,9,9,10,12,9,7,
    9,9,8,6,9,11,10,10,9,7,8,11,9,7,10,10,10,12,9,7,8,8,9,7,10,12,9,9,8,6,9,12,9,7,10,10,10,12,9,7,
    9,9,10,8,9,11,10,10,10,8,10,13,9,7,10,10,11,13,12,10,11,11,10,8,10,12,10,10,11,9,10,13,10,8,10,10,11,13,10,8,
    11,11,12,10,11,13,10,10,10,8,11,14,12,10,11,11,10,12,11,9,12,12,12,10,11,13,12,12,
]

amps = [amp_R92ED, amp_REE00, amp_CCA1, amp_R7FA5, amp_SDF0E,
        amp_R0353, amp_RA2AC, amp_RD232, amp_DYA, amp_HTL]

# drawing order: later entries sit on top
phases = [
    ("Pdiff", pdiff_t, "C1"),
    ("PKIKP", pkikp_t, "C0"),
    ("PKP", pkp1_t, "C2"),
    ("PKiKP", pkikp2_t, "C3"),
    ("PKP", pkp2_t, "C2"),
]

# ------------------------------------------------------------------
fig = plt.figure(figsize=(19, 11), dpi=100)

# full-figure background axes (only its left ticks show at the edge)
bg = fig.add_axes([0, 0, 1, 1], frameon=False, zorder=-1)
bg.set_xticks([])
bg.tick_params(direction="in", labelleft=False, left=True)

axs = fig.subplots(10, 1, sharex=True, gridspec_kw=dict(hspace=0))
fig.subplots_adjust(left=0.0804, right=0.96, top=0.92, bottom=0.079)

for i, ax in enumerate(axs):
    a = np.array(amps[i], dtype=float) * units[i]
    sign = np.where(np.arange(len(a)) % 2 == 0, 1.0, -1.0)
    t = t_start + np.arange(len(a)) * dt
    ax.plot(t, a * sign, color="C0", lw=0.8)

    ym = ylims[i]
    ax.set_ylim(-ym, ym)
    st = ytick_step[i]
    ax.set_yticks([-st, 0, st])
    ax.yaxis.set_major_formatter(FormatStrFormatter("%.1e"))
    ax.tick_params(direction="in", top=True, right=True)

    for name, times, col in phases:
        ax.axvline(times[i], color=col, ls="--", lw=1.5, alpha=0.6)
        ax.text(times[i] - 1.0, -ym, name, color=col, alpha=0.5,
                ha="right", va="bottom", fontsize=10.5)

    ax.text(0.01, 0.89, f"{stations[i]} {dists[i]}° {places[i]}",
            transform=ax.transAxes, ha="left", va="center", fontsize=10)

axs[-1].set_xlim(1029.4, 1423.1)

fig.suptitle("M5.4 298 km E of Vao, New Caledonia 2023-05-20 02:20:22.592000\n"
             "from the Raspberry Shake Network\n"
             "depth: 37.38 km, distance: 16980.0 km.",
             x=0.5, y=0.99, fontsize=10)
fig.text(0.009, 0.5, "Velocity [m/s]", rotation=90, ha="center", va="center")
fig.text(0.5, 0.0173, "Time since earthquake [s]", ha="center", va="center")
fig.text(0.01, 0.0173,
         'Channel: EHZ, filter: "bandpass", freqmin=1.3, freqmax=2.3, corners=4',
         ha="left", va="center")

fig.savefig("out.png", dpi=100)
